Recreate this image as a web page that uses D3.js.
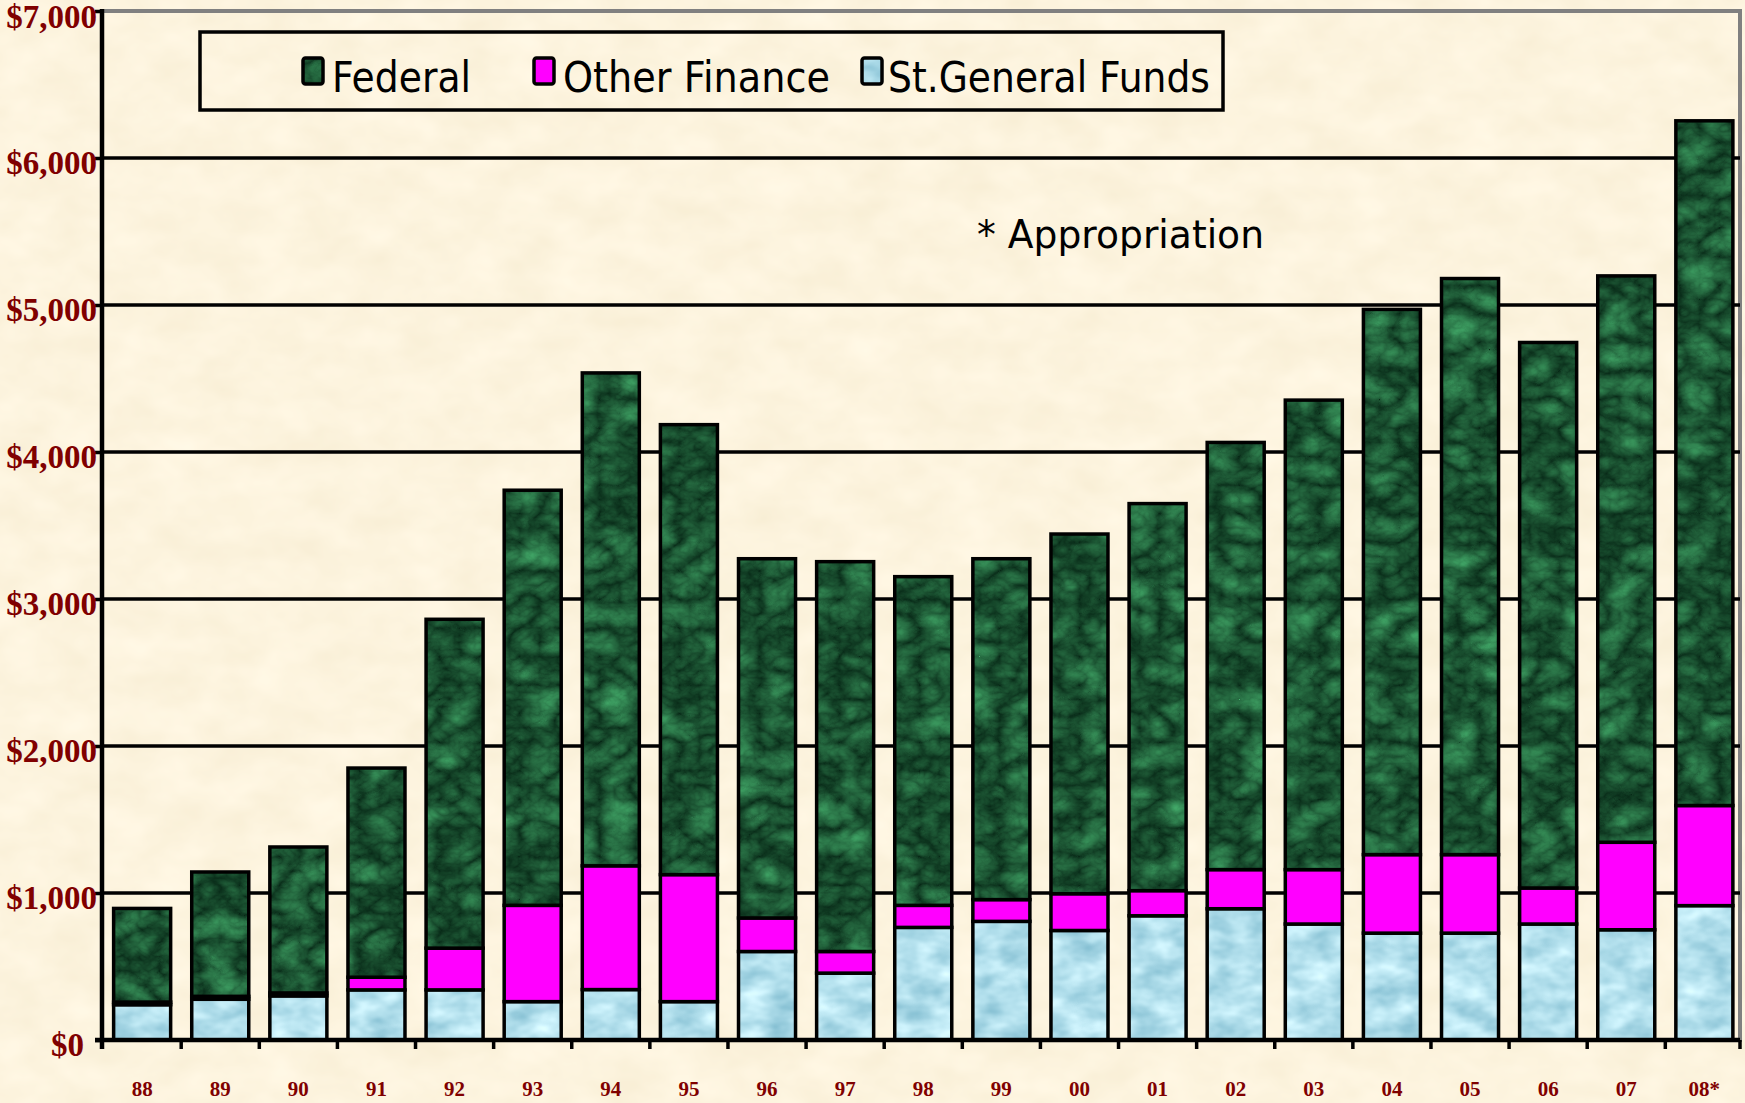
<!DOCTYPE html>
<html><head><meta charset="utf-8">
<script src="https://cdn.jsdelivr.net/npm/d3@7"></script>
<style>html,body{margin:0;padding:0;background:#fcf2dc;overflow:hidden}</style>
</head><body>
<svg id="c" width="1745" height="1103"></svg>
<script>
// ---- data ----
const years = ["88","89","90","91","92","93","94","95","96","97","98","99","00","01","02","03","04","05","06","07","08*"];
const seriesNames = ["Federal","Other Finance","St.General Funds"];
const stateGeneral = [240,277,300,341,341,261,343,261,602,455,766,807,745,845,893,789,727,727,789,750,914];
const otherFinance = [18,20,20,86,284,655,842,864,228,147,150,148,250,171,266,370,534,534,245,595,681];
const federal      = [637,846,993,1423,2237,2824,3353,3061,2444,2652,2236,2319,2447,2633,2906,3194,3709,3919,3711,3853,4658];
const yTicks = [0,1000,2000,3000,4000,5000,6000,7000];
const note = "* Appropriation";

// ---- layout ----
const W = 1745, H = 1103;
const plot = {left:102, right:1740, top:11, bottom:1040};
const svg = d3.select("#c");
const defs = svg.append("defs");

function texFilter(id, type, freq, oct, seed, rows){
  const f = defs.append("filter").attr("id", id).attr("x",0).attr("y",0).attr("width",1).attr("height",1)
    .attr("color-interpolation-filters","sRGB");
  f.append("feTurbulence").attr("type",type).attr("baseFrequency",freq).attr("numOctaves",oct).attr("seed",seed).attr("result","t");
  f.append("feColorMatrix").attr("in","t").attr("type","matrix").attr("values",rows);
}
texFilter("bgTex","fractalNoise","0.02 0.03",3,7,
  "0.04 0 0 0 0.97  0.05 0 0 0 0.93  0.08 0 0 0 0.83  0 0 0 0 1");
texFilter("greenTex","turbulence","0.025 0.035",4,2,
  "0.25 0 0 0 0.03  0.55 0 0 0 0.16  0.35 0 0 0 0.09  0 0 0 0 1");
texFilter("blueTex","fractalNoise","0.03 0.05",3,5,
  "0.45 0 0 0 0.48  0.32 0 0 0 0.72  0.26 0 0 0 0.80  0 0 0 0 1");

function texPattern(id, filt){
  const p = defs.append("pattern").attr("id",id).attr("patternUnits","userSpaceOnUse")
    .attr("width",W).attr("height",H);
  p.append("rect").attr("width",W).attr("height",H).attr("filter",`url(#${filt})`);
}
texPattern("greenPat","greenTex");
texPattern("bluePat","blueTex");

const fills = {"Federal":"url(#greenPat)","Other Finance":"#ff00ff","St.General Funds":"url(#bluePat)"};

// background
svg.append("rect").attr("width",W).attr("height",H).attr("filter","url(#bgTex)");

// scales
const x = d3.scaleBand().domain(years).range([plot.left, plot.right])
  .paddingInner(0.27).paddingOuter(0.12).align(0.62);
const y = d3.scaleLinear().domain([0,7000]).range([plot.bottom, plot.top]);

// plot border (gray)
svg.append("rect").attr("x",plot.left).attr("y",plot.top)
  .attr("width",plot.right-plot.left).attr("height",plot.bottom-plot.top)
  .attr("fill","none").attr("stroke","#808080").attr("stroke-width",4);

// gridlines
svg.append("g").selectAll("line").data(yTicks.filter(d=>d>0 && d<7000)).join("line")
  .attr("x1",plot.left).attr("x2",plot.right).attr("y1",d=>y(d)).attr("y2",d=>y(d))
  .attr("stroke","#000").attr("stroke-width",3.5);

// stacked data
const rows = years.map((yr,i)=>({year:yr, "St.General Funds":stateGeneral[i], "Other Finance":otherFinance[i], "Federal":federal[i]}));
const stack = d3.stack().keys(["St.General Funds","Other Finance","Federal"]);
const layers = stack(rows);

svg.append("g").selectAll("g").data(layers).join("g")
  .attr("fill",d=>fills[d.key])
  .selectAll("rect").data(d=>d).join("rect")
  .attr("x",d=>x(d.data.year)).attr("width",x.bandwidth())
  .attr("y",d=>y(d[1])).attr("height",d=>y(d[0])-y(d[1]))
  .attr("stroke","#000").attr("stroke-width",3.5);

// y axis
const yAxis = d3.axisLeft(y).tickValues(yTicks).tickFormat(d=>"$"+d3.format(",")(d))
  .tickSizeInner(7).tickSizeOuter(0).tickPadding(-2);
const gy = svg.append("g").attr("transform",`translate(${plot.left},0)`).call(yAxis);
gy.select(".domain").remove();
gy.selectAll(".tick line").attr("stroke","#000").attr("stroke-width",3.5);
gy.selectAll(".tick text").attr("font-family","'Liberation Serif','Times New Roman',serif")
  .attr("font-weight","bold").attr("font-size",33).attr("fill","#800000").attr("dy",d=>d===7000?"0.5em":"0.47em")
  .attr("x",d=>d===0?-18:-5);

// x axis
const xAxis = d3.axisBottom(x).tickSize(0).tickPadding(41);
const gx = svg.append("g").attr("transform",`translate(0,${plot.bottom})`).call(xAxis);
gx.select(".domain").remove();
gx.selectAll(".tick text").attr("font-family","'Liberation Serif','Times New Roman',serif")
  .attr("font-weight","bold").attr("font-size",21).attr("fill","#800000");

// boundary ticks between categories
const half = (x.step()-x.bandwidth())/2;
const bounds = years.map(d=>x(d)-half).concat([plot.right]);
svg.append("g").selectAll("line").data(bounds.filter(d=>d>plot.left+5)).join("line")
  .attr("x1",d=>d).attr("x2",d=>d).attr("y1",plot.bottom).attr("y2",plot.bottom+9)
  .attr("stroke","#000").attr("stroke-width",3.5);

// axis lines
svg.append("line").attr("x1",plot.left-7).attr("x2",plot.right).attr("y1",plot.bottom).attr("y2",plot.bottom)
  .attr("stroke","#000").attr("stroke-width",4.5);
svg.append("line").attr("x1",plot.left).attr("x2",plot.left).attr("y1",plot.top-2).attr("y2",plot.bottom+9)
  .attr("stroke","#000").attr("stroke-width",4.5);

// legend
const legendBox = {x:200, y:32, w:1023, h:78};
const lg = svg.append("g");
lg.append("rect").attr("x",legendBox.x).attr("y",legendBox.y).attr("width",legendBox.w).attr("height",legendBox.h)
  .attr("fill","none").attr("stroke","#000").attr("stroke-width",3.5);
const legendLayout = [
  {sx:303, tx:332, tl:139},
  {sx:534, tx:563, tl:267},
  {sx:862, tx:888, tl:322}
];
seriesNames.forEach((name,i)=>{
  const L = legendLayout[i];
  lg.append("rect").attr("x",L.sx).attr("y",58).attr("width",20).attr("height",26).attr("rx",2.5)
    .attr("fill",fills[name]).attr("stroke","#000").attr("stroke-width",3.5);
  lg.append("text").attr("x",L.tx).attr("y",91.5).text(name)
    .attr("font-family","'DejaVu Sans',Verdana,sans-serif").attr("font-size",42).attr("fill","#000")
    .attr("textLength",L.tl).attr("lengthAdjust","spacingAndGlyphs");
});

// note
svg.append("text").attr("x",977).attr("y",248).text(note)
  .attr("font-family","'DejaVu Sans',Verdana,sans-serif").attr("font-size",38.5).attr("fill","#000")
  .attr("textLength",287).attr("lengthAdjust","spacingAndGlyphs");
</script>
</body></html>
